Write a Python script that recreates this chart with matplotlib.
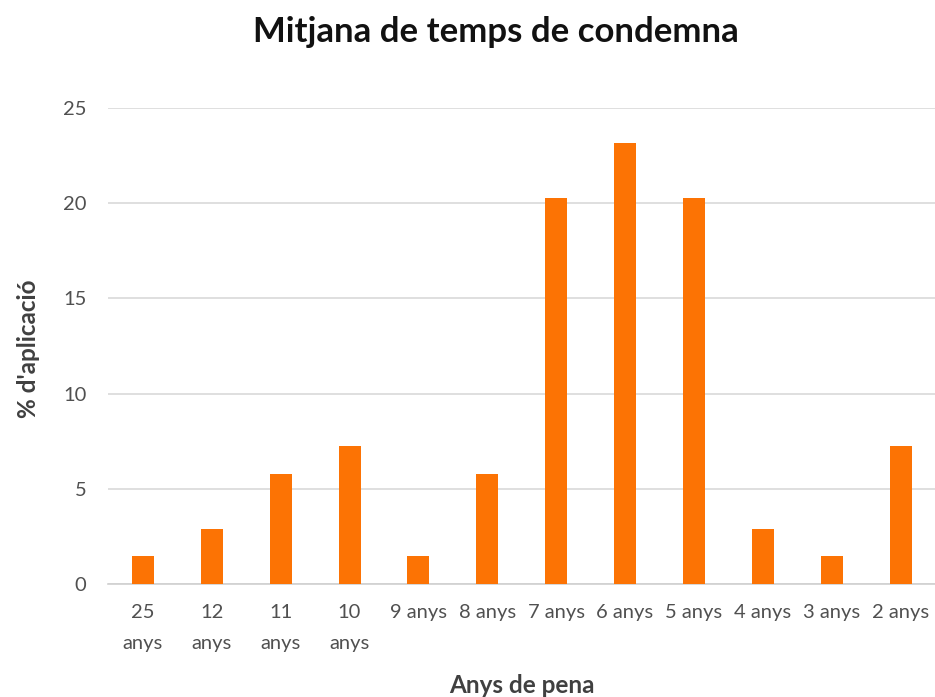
import matplotlib
matplotlib.use('Agg')
import matplotlib.pyplot as plt
import numpy as np

# --- Data ---
categories = ['25\nanys', '12\nanys', '11\nanys', '10\nanys', '9 anys', '8 anys',
              '7 anys', '6 anys', '5 anys', '4 anys', '3 anys', '2 anys']
values = [1.45, 2.9, 5.8, 7.25, 1.45, 5.8, 20.29, 23.19, 20.29, 2.9, 1.45, 7.25]

plt.rcParams['font.family'] = ['Lato', 'DejaVu Sans']

fig = plt.figure(figsize=(9.35, 6.97), dpi=100)
ax = fig.add_axes([0.116, 0.162, 0.884, 0.683])

x = np.arange(len(categories))
ax.bar(x, values, width=0.32, color='#FC7304', zorder=3)

ax.set_xlim(-0.5, len(categories) - 0.5)
ax.set_ylim(0, 25)
ax.set_yticks([0, 5, 10, 15, 20, 25])
ax.set_xticks(x)
ax.set_xticklabels(categories, linespacing=2.0, va='top')

ax.grid(axis='y', color='#d9d9d9', linewidth=1.2, zorder=0)
for s in ['top', 'right', 'left']:
    ax.spines[s].set_visible(False)
ax.spines['bottom'].set_color('#d0d0d0')
ax.spines['bottom'].set_linewidth(1.2)
ax.tick_params(axis='both', length=0, labelsize=14.5, colors='#505050')
ax.tick_params(axis='y', pad=16)
ax.tick_params(axis='x', pad=14)

fig.text(0.53, 0.954, 'Mitjana de temps de condemna', ha='center', va='center',
         fontsize=25, fontweight='bold', color='#111111')
fig.text(0.558, 0.017, 'Anys de pena', ha='center', va='center',
         fontsize=17.5, fontweight='bold', color='#404040')
fig.text(0.03, 0.5, "% d'aplicació", ha='center', va='center', rotation=90,
         fontsize=17.5, fontweight='bold', color='#404040')

fig.savefig('out.png', dpi=100)
